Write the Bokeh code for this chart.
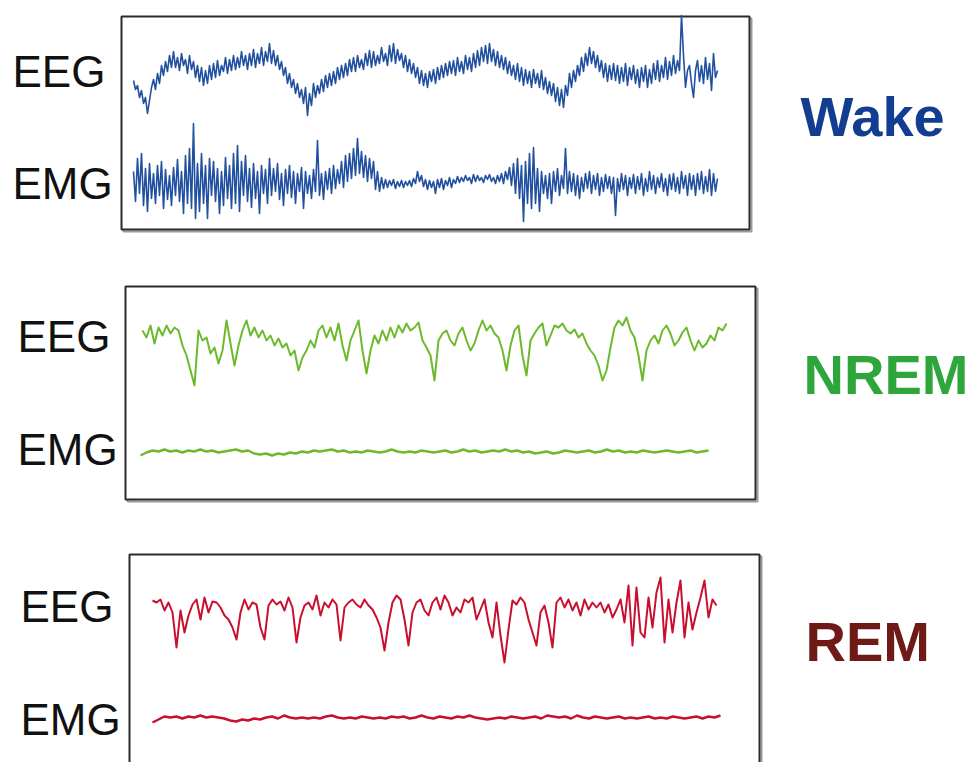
import numpy as np
from bokeh.plotting import figure
from bokeh.models import Range1d
from bokeh.core.properties import value
from bokeh.embed import file_html
from bokeh.resources import INLINE

# ---------------- data (amplitudes, up = positive) ----------------
states = ["Wake", "NREM", "REM"]
channels = ["EEG", "EMG"]

wake_eeg = [-5, -14, -10, -22, -15, -28, -22, -38, -25, -12,
            -4, -14, 2, -8, 10, 0, 14, 4, 20, 8,
            24, 8, 18, 5, 22, 10, 16, 2, 20, 6,
            14, -2, 10, -6, 8, -10, 5, -8, 10, -4,
            12, -2, 15, 0, 10, 4, 18, 2, 16, 5,
            20, 6, 18, 8, 24, 10, 20, 6, 22, 10,
            26, 8, 22, 12, 28, 10, 24, 14, 32, 12,
            25, 10, 20, 6, 14, 0, 8, -8, 2, -12,
            -4, -18, -8, -22, -14, -28, -12, -40, -18, -30,
            -8, -22, -10, -18, -4, -16, 0, -12, 2, -10,
            4, -8, 8, -4, 10, -2, 12, 0, 16, 4,
            18, 4, 20, 8, 16, 6, 22, 10, 25, 8,
            24, 10, 20, 12, 28, 14, 22, 10, 30, 14,
            32, 12, 26, 15, 22, 8, 20, 4, 16, 2,
            12, -2, 8, -8, 5, -10, 2, -12, 4, -6,
            6, -8, 8, -4, 10, -2, 12, 0, 14, 2,
            15, 0, 18, 4, 14, 2, 20, 6, 18, 4,
            22, 8, 25, 10, 28, 14, 30, 12, 32, 14,
            26, 10, 24, 8, 20, 6, 18, 2, 14, 0,
            10, -4, 12, -6, 8, -10, 6, -8, 4, -12,
            6, -8, 2, -12, 5, -14, -2, -18, -6, -20,
            -8, -26, -12, -30, -14, -32, -10, -20, 2, -12,
            5, -6, 10, 0, 18, 4, 22, 10, 28, 12,
            24, 8, 20, 4, 15, -2, 12, -6, 10, -4,
            12, -5, 10, -8, 8, -6, 12, -10, 8, -4,
            10, -8, 6, -12, 8, -6, 10, -12, 6, -8,
            12, -4, 15, -6, 10, -2, 18, -4, 14, 0,
            20, 2, 15, 5, 60, 20, -12, 5, 10, -8,
            -22, 5, 15, -6, 10, -8, 18, -4, 12, -15,
            22, -2, 5]

wake_emg = [12, -18, 25, -10, 30, -22, 15, -28, 20, -15,
            10, -20, 18, -12, 22, -25, 14, -16, 8, -22,
            16, -12, 24, -18, 12, -30, 28, -20, 35, -25,
            60, -35, 20, -28, 30, -20, 18, -35, 25, -12,
            22, -18, 15, -30, 12, -22, 26, -15, 18, -25,
            30, -20, 38, -28, 22, -12, 28, -18, 15, -24,
            20, -15, 12, -30, 18, -10, 14, -20, 25, -12,
            15, -8, 20, -16, 10, -22, 14, -10, 18, -14,
            12, -20, 10, -8, 16, -25, 12, -10, 8, -15,
            14, -8, 43, -12, 10, -16, 12, -6, 15, -10,
            18, -5, 14, 0, 22, -4, 28, 2, 30, 5,
            35, 8, 45, 10, 32, 6, 28, 2, 25, 5,
            22, -6, 12, -8, 6, -5, 4, -4, 3, -2,
            4, -5, 2, -3, 3, -4, 2, -2, 3, -3,
            5, 0, 12, 2, 8, -3, 4, -6, 3, -4,
            2, -10, 4, -4, 5, -6, 3, -2, 6, -4,
            4, 0, 7, 1, 6, 2, 8, 3, 6, 0,
            9, 2, 8, 3, 6, 1, 8, 4, 9, 2,
            6, 0, 8, 2, 10, 0, 12, 4, 16, -2,
            20, -10, 25, -15, 18, -38, 22, -20, 30, -25,
            36, -20, 15, -28, 12, -10, 8, -15, 10, -20,
            12, -8, 15, -12, 8, -5, 35, -10, 12, -8,
            10, -12, 8, -15, 6, -8, 10, -5, 12, -10,
            8, -6, 10, -12, 6, -8, 9, -5, 7, -10,
            6, -32, 5, -8, 10, -6, 8, -12, 6, -5,
            9, -10, 7, -6, 10, -12, 5, -8, 12, -6,
            8, -10, 6, -4, 10, -8, 5, -12, 9, -6,
            10, -8, 6, -10, 12, -5, 8, -12, 10, -6,
            8, -12, 10, -6, 12, -10, 7, -8, 14, -12,
            10, -8, 5]

nrem_eeg = [5, -2, 10, -8, 8, 0, 10, 2, 8, 5, -10, -20, -35, -50, 5, -5, -2, -18, -12, -28,
            -15, 15, -8, -30, -10, 5, 15, 0, 8, -2, 5, -5, 0, -10, -3, -12, -8, -20, -15, -35,
            -22, -15, -5, -12, 5, 10, -2, 8, -5, 12, -10, -25, -5, 5, 15, -15, -38, -15, 0, -8,
            5, -5, 8, -2, 10, 3, 12, 5, 8, 13, -5, -12, -20, -45, -5, 2, 5, -5, -10, 2,
            8, -5, -15, -8, 5, 15, 5, 10, 2, -2, -15, -35, -10, 5, 10, -20, -40, -5, 2, 8,
            12, -10, 0, 10, 8, 12, 5, 2, 6, -2, 2, -8, -15, -20, -30, -45, -35, -12, 8, 15,
            10, 18, 5, -2, -20, -45, -15, -5, 0, -8, 5, 10, 2, -10, -5, 3, 8, -5, -15, -5,
            -12, -8, 0, -5, 8, 5, 12]

nrem_emg = [-3, 0, 2, 1, 3, 1, 2, 0, 2, 1, 3, 1, 2, 0, 1, 2, 3, 1, 2, -1,
            -2, -1, -3, -1, -2, 0, -1, 1, 0, 2, 1, 2, 3, 1, 2, 0, 1, 0, 2, 1,
            0, 1, 3, 1, 0, 1, 0, 2, 1, 0, 1, 2, 0, 1, 3, 1, 2, 0, 1, 2,
            1, 3, 1, 2, 0, 1, -1, 0, 1, -1, 0, 2, 1, 0, 1, 2, 0, 1, 3, 1,
            2, 0, 1, 0, 2, 1, 0, 1, 2, 1, 0, 1, 2, 0, 1, 2]

rem_eeg = [7, 5, 8, -3, 5, -5, -40, -3, -25, -8, 3, 8, -12, 10, -5, 6, 5, 0, -8, -12,
           -20, -32, -5, 8, -2, 5, 3, -20, -32, 2, 8, 3, 6, -3, 10, 0, -35, -10, 2, 5,
           -2, 12, -8, 5, 0, 8, 3, -33, 0, 5, 8, 3, 0, 8, 2, -2, -10, -20, -43, -15,
           5, 12, 8, -12, -38, -5, 5, 8, -3, -8, 5, 10, -2, 12, 5, -8, 0, -5, 8, 5,
           10, -12, -2, 8, -15, -30, 5, -28, -55, -22, 7, 3, 10, 5, -12, -25, -38, -5, 2, -15,
           -40, 5, 10, 0, 8, -3, 5, -8, 8, -2, 5, 0, 5, -5, 3, -10, -2, 8, -15, 22,
           -38, 20, -25, -30, 10, -20, 15, 30, -35, 8, -25, 5, 27, -30, 5, -22, -5, 10, 27, -10,
           8, 2]

rem_emg = [-4, -1, 2, 1, 2, 0, 2, 1, 3, 1, 2, 1, 0, -2, -3, -1, -2, 0, -1, 1,
           2, 0, 3, 1, 0, 1, 0, 1, 0, 2, 3, 1, 0, 1, 0, 2, 1, 0, 1, 0,
           2, 1, 2, 0, 1, 3, 1, 0, 2, 1, 0, 2, 1, 3, 1, 0, -1, 0, 1, 0,
           2, 1, 0, 1, 2, 0, 3, 2, 1, 2, 0, 3, 1, 0, 2, 1, 0, 1, 2, 0,
           1, 0, 1, 2, 0, 1, 0, 2, 1, 0, 1, 2, 0, 2, 1, 3]

state_colors = ["#133d91", "#2ea63c", "#6e1a17"]
trace_colors = ["#2150a0", "#6cba2c", "#c8102e"]

# ---------------- layout (pixel frame of the page) ----------------
panels = [
    dict(box=(121, 749, 16, 229), eeg=(133, 717, 75), emg=(133, 717, 183),
         lab_x=12, lab_y=(71, 183), st=(800, 116), eeg_d=wake_eeg, emg_d=wake_emg, lw=(1.6, 1.6)),
    dict(box=(125, 755, 286, 499), eeg=(142, 726, 335), emg=(140, 708, 452),
         lab_x=17, lab_y=(336, 449), st=(803, 374), eeg_d=nrem_eeg, emg_d=nrem_emg, lw=(2.0, 2.4)),
    dict(box=(129, 759, 554, 790), eeg=(152, 716, 607), emg=(152, 720, 718),
         lab_x=20, lab_y=(606, 719), st=(805, 641), eeg_d=rem_eeg, emg_d=rem_emg, lw=(2.0, 2.4)),
]

p = figure(width=970, height=762, x_range=Range1d(0, 970), y_range=Range1d(762, 0),
           output_backend="svg", toolbar_location=None, min_border=0)
p.axis.visible = False
p.grid.visible = False
p.outline_line_color = None
p.background_fill_color = "white"
p.border_fill_color = "white"

for i, pan in enumerate(panels):
    l, r, t, b = pan["box"]
    p.quad(left=[l + 2], right=[r + 2], top=[t + 2], bottom=[b + 2], fill_alpha=0,
           line_color="#9a9a9a", line_width=2)
    p.quad(left=[l], right=[r], top=[t], bottom=[b], fill_color="white",
           line_color="#2b2b2b", line_width=2)
    for (x0, x1, base), data, lw in ((pan["eeg"], pan["eeg_d"], pan["lw"][0]),
                                     (pan["emg"], pan["emg_d"], pan["lw"][1])):
        arr = np.asarray(data, dtype=float)
        xs = np.linspace(x0, x1, len(arr))
        p.line(xs, base - arr, line_color=trace_colors[i], line_width=lw, line_join="round")
    p.text(x=[pan["lab_x"], pan["lab_x"]], y=list(pan["lab_y"]), text=channels,
           text_font=value("Liberation Sans"), text_font_size="44px", text_color="#111111",
           text_baseline="alphabetic", text_align="left")
    p.text(x=[pan["st"][0]], y=[pan["st"][1]], text=[states[i]],
           text_font=value("Liberation Sans"), text_font_size="56px", text_font_style="bold",
           text_color=state_colors[i], text_baseline="alphabetic", text_align="left")

open("out.html", "w").write(file_html(p, INLINE))
